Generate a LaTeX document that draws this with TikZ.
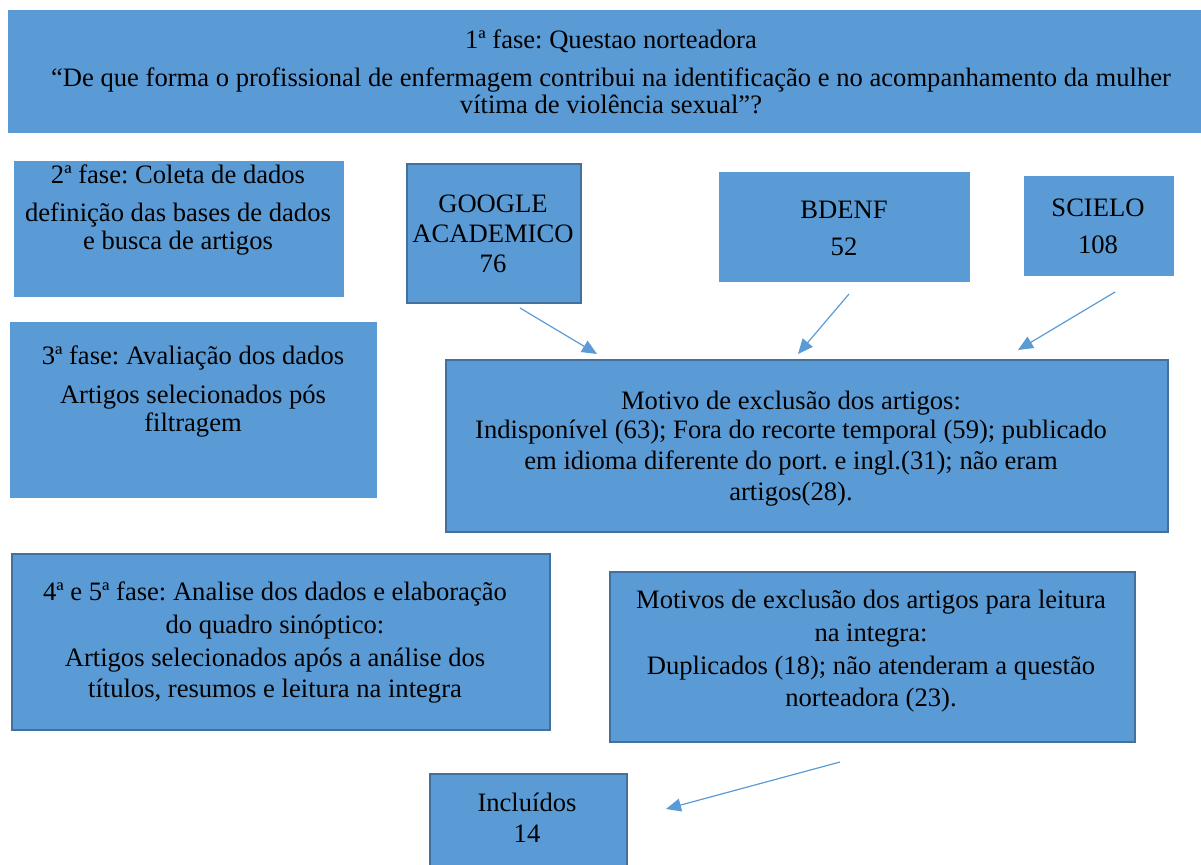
\documentclass[tikz,border=0pt]{standalone}
\usepackage{fontspec}
\setmainfont{Liberation Serif}
\usetikzlibrary{arrows.meta}
\definecolor{boxfill}{HTML}{5B9BD5}
\definecolor{darkedge}{HTML}{41719C}
\begin{document}
\frenchspacing
\begin{tikzpicture}[x=1pt,y=-1pt,
  box/.style={draw=boxfill, fill=boxfill, line width=1pt, inner sep=0pt, anchor=north west},
  darkbox/.style={box, draw=darkedge, line width=2pt},
  txt/.style={align=center, font=\fontsize{26.6}{30}\selectfont, inner sep=0pt},
  arr/.style={draw=boxfill, line width=1.2pt, -{Triangle[length=15pt,width=13pt]}}]
\useasboundingbox (0,0) rectangle (1201,864);
% boxes
\node[box, minimum width=1197pt, minimum height=122pt] (b1) at (8,10) {};
\node[box, minimum width=329pt, minimum height=135pt] (b2) at (14,161) {};
\node[darkbox, minimum width=174pt, minimum height=139pt] (g) at (406,163) {};
\node[box, minimum width=250pt, minimum height=109pt] (bd) at (719,172) {};
\node[box, minimum width=149pt, minimum height=99pt] (sc) at (1024,176) {};
\node[box, minimum width=366pt, minimum height=175pt] (b3) at (10,322) {};
\node[darkbox, minimum width=722pt, minimum height=172pt] (mo) at (445,359) {};
\node[darkbox, minimum width=538pt, minimum height=176pt] (b4) at (11,553) {};
\node[darkbox, minimum width=525pt, minimum height=170pt] (ml) at (609,571) {};
\node[darkbox, minimum width=197pt, minimum height=100pt] (inc) at (429,773) {};
% texts
\node[txt] (t1) at (611,72) {1ª fase: Questao norteadora\\[8pt]“De que forma o profissional de enfermagem contribui na identificação e no acompanhamento da mulher\\[-3pt]vítima de violência sexual”?};
\node[txt] (t2) at (178,210) {2ª fase: Coleta de dados\\[8pt]definição das bases de dados\\[-2pt]e busca de artigos};
\node[txt] (tg) at (493,234) {GOOGLE\\ACADEMICO\\76};
\node[txt] (tbd) at (844,228) {BDENF\\[7pt]52};
\node[txt] (tsc) at (1098,226) {SCIELO\\[7pt]108};
\node[txt] (t3) at (193,392) {3ª fase: Avaliação dos dados\\[9pt]Artigos selecionados pós\\[-2pt]filtragem};
\node[txt] (tmo) at (791,449) {Motivo de exclusão dos artigos:\\[-1pt]Indisponível (63); Fora do recorte temporal (59); publicado\\[1pt]em idioma diferente do port. e ingl.(31); não eram\\[1pt]artigos(28).};
\node[txt] (t4) at (275,642) {4ª e 5ª fase: Analise dos dados e elaboração\\[3pt]do quadro sinóptico:\\[3pt]Artigos selecionados após a análise dos\\[1pt]títulos, resumos e leitura na integra};
\node[txt] (tml) at (871,651) {Motivos de exclusão dos artigos para leitura\\[3pt]na integra:\\[3pt]Duplicados (18); não atenderam a questão\\[2pt]norteadora (23).};
\node[txt] (tinc) at (527,818) {Incluídos\\[1pt]14};
% arrows
\coordinate (a1s) at (520,308); \coordinate (a1e) at (597,354);
\coordinate (a2s) at (849,294); \coordinate (a2e) at (798,354);
\coordinate (a3s) at (1115,292); \coordinate (a3e) at (1018,350);
\coordinate (a4s) at (840,762); \coordinate (a4e) at (666,809);
\draw[arr] (a1s) -- (a1e);
\draw[arr] (a2s) -- (a2e);
\draw[arr] (a3s) -- (a3e);
\draw[arr] (a4s) -- (a4e);
\end{tikzpicture}
\end{document}
